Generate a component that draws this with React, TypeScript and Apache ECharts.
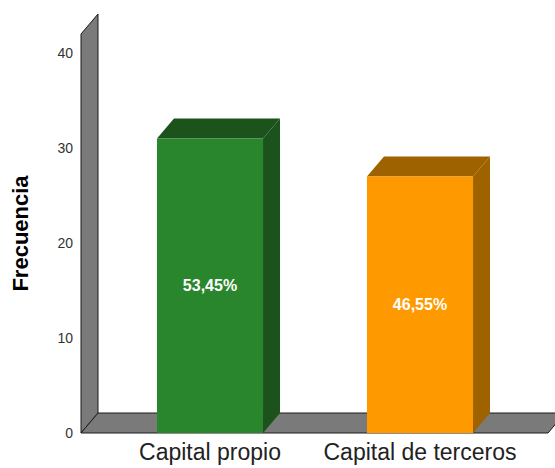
import React, { useEffect, useRef } from 'react';
import * as echarts from 'echarts';

const categories = ['Capital propio', 'Capital de terceros'];
const frequencies = [31, 27];
const percentLabels = ['53,45%', '46,55%'];
const yMax = 42;
const yInterval = 10;
const frontColors = ['#2A862C', '#FF9900'];
const darkColors = ['#1C521C', '#9E6200'];

const FONT = '"Liberation Sans", Arial, Helvetica, sans-serif';
const DX = 17;
const DY = -20;

export default function App() {
  const ref = useRef<HTMLDivElement>(null);
  useEffect(() => {
    const chart = echarts.init(ref.current!, null, { renderer: 'svg' });

    const frame = (params: any, api: any) => {
      const cs = params.coordSys;
      const y0 = api.coord([0, 0])[1];
      const yTop = api.coord([0, yMax])[1];
      const xL = cs.x - 24;
      const xR = cs.x + cs.width + 23;
      const style = { fill: '#7A7A7A', stroke: '#1a1a1a', lineWidth: 1 };
      return {
        type: 'group',
        children: [
          {
            type: 'polygon',
            shape: { points: [[xL, y0], [xL, yTop], [xL + DX, yTop + DY], [xL + DX, y0 + DY]] },
            style,
          },
          {
            type: 'polygon',
            shape: { points: [[xL, y0], [xR, y0], [xR + DX, y0 + DY], [xL + DX, y0 + DY]] },
            style,
          },
        ],
      };
    };

    const bar3d = (params: any, api: any) => {
      const idx = api.value(0);
      const v = api.value(1);
      const top = api.coord([idx, v]);
      const cx = top[0];
      const yt = top[1];
      const y0 = api.coord([idx, 0])[1];
      const bw = api.size([1, 0])[0] * 0.505;
      const x1 = cx - bw / 2;
      const x2 = cx + bw / 2;
      const i = params.dataIndex;
      return {
        type: 'group',
        children: [
          {
            type: 'polygon',
            shape: { points: [[x2, y0], [x2, yt], [x2 + DX, yt + DY], [x2 + DX, y0 + DY]] },
            style: { fill: darkColors[i] },
          },
          {
            type: 'polygon',
            shape: { points: [[x1, yt], [x2, yt], [x2 + DX, yt + DY], [x1 + DX, yt + DY]] },
            style: { fill: darkColors[i] },
          },
          {
            type: 'rect',
            shape: { x: x1, y: yt, width: bw, height: y0 - yt },
            style: { fill: frontColors[i] },
          },
          {
            type: 'text',
            style: {
              text: percentLabels[i],
              x: cx,
              y: (yt + y0) / 2,
              align: 'center',
              verticalAlign: 'middle',
              fill: '#ffffff',
              fontSize: 16,
              fontWeight: 'bold',
              fontFamily: FONT,
            },
          },
        ],
      };
    };

    chart.setOption({
      animation: false,
      backgroundColor: '#ffffff',
      grid: { left: 105, right: 30, top: 34, bottom: 35, containLabel: false, outerBoundsMode: 'none' },
      xAxis: {
        type: 'category',
        data: categories,
        axisLine: { show: false },
        axisTick: { show: false },
        axisLabel: { interval: 0, fontSize: 23, color: '#222222', fontFamily: FONT, margin: 7 },
      },
      yAxis: {
        type: 'value',
        min: 0,
        max: yMax,
        interval: yInterval,
        name: 'Frecuencia',
        nameLocation: 'middle',
        nameRotate: 90,
        nameGap: 74,
        nameTextStyle: { fontSize: 22, fontWeight: 'bold', color: '#000000', fontFamily: FONT },
        axisLine: { show: false },
        axisTick: { show: false },
        splitLine: { show: false },
        axisLabel: {
          fontSize: 14,
          color: '#333333',
          fontFamily: FONT,
          margin: 32,
          formatter: (v: number) => (v % yInterval === 0 ? String(v) : ''),
        },
      },
      series: [
        { type: 'custom', renderItem: frame, data: [[0, 0]], silent: true, z: 1 },
        {
          type: 'custom',
          renderItem: bar3d,
          data: frequencies.map((v, i) => [i, v]),
          encode: { x: 0, y: 1 },
          z: 2,
        },
      ],
    });
    return () => chart.dispose();
  }, []);
  return (
    <div
      ref={ref}
      style={{ position: 'fixed', left: 0, top: 0, width: 555, height: 468, background: '#fff' }}
    />
  );
}
